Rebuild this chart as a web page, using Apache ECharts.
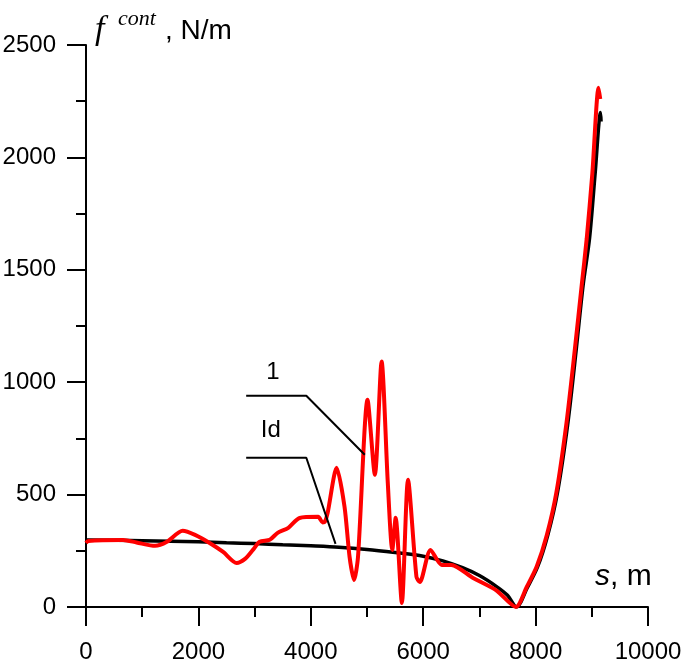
<!DOCTYPE html>
<html>
<head>
<meta charset="utf-8">
<script src="https://cdn.jsdelivr.net/npm/echarts@6/dist/echarts.min.js"></script>
<style>
  html, body { margin: 0; padding: 0; background: #fff; }
  #chart { width: 685px; height: 668px; }
</style>
</head>
<body>
<div id="chart"></div>
<script>
'use strict';
/* contact force along the pipe: ideal curve (Id) and computed curve (1) */

// x ticks and y ticks
var xTicks = [0, 2000, 4000, 6000, 8000, 10000];
var yTicks = [0, 500, 1000, 1500, 2000, 2500];

// curve Id (black)
var sId = [0, 1000, 2000, 2500, 3000, 3500, 4000, 4500, 5000, 5500, 6000, 6350, 6700, 7000, 7300, 7500, 7660,
  7850, 8035, 8215, 8390, 8575, 8725, 8845, 8960, 9060, 9156, 9165];
var vId = [298, 295, 290, 286, 282, 277, 272, 266, 256, 242, 226, 205, 175, 140, 92, 52, 0,
  85, 178, 318, 510, 820, 1150, 1430, 1640, 1930, 2200, 2160];

// curve 1 (red)
var s1 = [0, 40, 660, 900, 1230, 1440, 1720, 1940, 2200, 2440, 2680, 2830, 2970, 3090, 3270, 3410, 3600, 3800,
  4130, 4210, 4250, 4300, 4460, 4600, 4690, 4770, 4840, 5010, 5140, 5260, 5370, 5450, 5510, 5620, 5730,
  5880, 5940, 6130, 6330, 6500, 6880, 7300, 7650,
  7840, 8020, 8200, 8370, 8550, 8700, 8820, 8910, 9010, 9120, 9150];
var v1 = [285, 294, 298, 287, 272, 290, 339, 321, 285, 245, 196, 214, 254, 290, 299, 330, 352, 396,
  401, 376, 379, 419, 619, 446, 223, 120, 223, 922, 588, 1092, 552, 254, 397, 18, 566,
  134, 111, 254, 187, 187, 130, 74, 0,
  88, 180, 320, 510, 820, 1150, 1430, 1640, 1930, 2310, 2260];

// leader lines for the curve labels
var lead1 = [[2850, 940], [3920, 940], [4960, 677]];
var leadId = [[2850, 664], [3920, 664], [4440, 281]];
var label1 = [3324, 1043];
var labelId = [3289, 784];

function pairs(xs, ys) {
  var out = [];
  for (var i = 0; i < xs.length; i++) {
    out.push([xs[i], ys[i]]);
  }
  return out;
}

var chart = echarts.init(document.getElementById('chart'));

var axisFont = 'Arial, "Liberation Sans", sans-serif';

function axisCfg(ticks, margin) {
  return {
    type: 'value',
    min: ticks[0],
    max: ticks[ticks.length - 1],
    interval: ticks[1] - ticks[0],
    axisLine: { show: true, onZero: false, lineStyle: { color: '#000', width: 2 } },
    axisTick: { show: true, inside: false, length: 19, lineStyle: { color: '#000', width: 2 } },
    minorTick: { show: true, splitNumber: 2, length: 10, lineStyle: { color: '#000', width: 2 } },
    splitLine: { show: false },
    axisLabel: {
      color: '#000', fontSize: 24, fontFamily: axisFont, margin: margin,
      formatter: function(v) { return String(v); }
    }
  };
}

var opt = {
  animation: false,
  backgroundColor: '#fff',
  grid: { left: 86, right: 37, top: 45, bottom: 61, outerBoundsMode: 'none', containLabel: false },
  xAxis: axisCfg(xTicks, 33),
  yAxis: axisCfg(yTicks, 30),
  series: [{
    name: 'Id',
    type: 'line',
    data: pairs(sId, vId),
    smooth: 0.3,
    showSymbol: false,
    silent: true,
    lineStyle: { color: '#000', width: 3.5 },
    z: 2
  }, {
    name: '1',
    type: 'line',
    data: pairs(s1, v1),
    smooth: 0.25,
    showSymbol: false,
    silent: true,
    lineStyle: { color: '#ff0000', width: 4 },
    z: 3
  }, {
    name: 'lead1',
    type: 'line',
    data: lead1,
    showSymbol: false,
    silent: true,
    lineStyle: { color: '#000', width: 2 },
    z: 4
  }, {
    name: 'leadId',
    type: 'line',
    data: leadId,
    showSymbol: false,
    silent: true,
    lineStyle: { color: '#000', width: 2 },
    z: 4
  }]
};

chart.setOption(opt);

// texts placed after the grid is known
var p1 = chart.convertToPixel({ gridIndex: 0 }, label1);
var pId = chart.convertToPixel({ gridIndex: 0 }, labelId);

chart.setOption({
  graphic: [{
    type: 'text', x: p1[0], y: p1[1],
    style: { text: '1', font: '24px ' + axisFont, fill: '#000', align: 'center', verticalAlign: 'middle' }
  }, {
    type: 'text', x: pId[0], y: pId[1],
    style: { text: 'Id', font: '24px ' + axisFont, fill: '#000', align: 'center', verticalAlign: 'middle' }
  }, {
    type: 'text', x: 95, y: 30,
    style: { text: 'f', font: 'italic 34px "Liberation Serif", "Times New Roman", serif', fill: '#000', align: 'left', verticalAlign: 'middle' }
  }, {
    type: 'text', x: 118, y: 19,
    style: { text: 'cont', font: 'italic 22px "Liberation Serif", "Times New Roman", serif', fill: '#000', align: 'left', verticalAlign: 'middle' }
  }, {
    type: 'text', x: 165, y: 31,
    style: { text: ', N/m', font: '28px ' + axisFont, fill: '#000', align: 'left', verticalAlign: 'middle' }
  }, {
    type: 'text', x: 595, y: 577,
    style: {
      text: '{i|s}, m',
      font: '30px ' + axisFont,
      fill: '#000',
      align: 'left',
      verticalAlign: 'middle',
      rich: { i: { fontStyle: 'italic', fontSize: 30, fontFamily: axisFont, fill: '#000' } }
    }
  }]
});
</script>
</body>
</html>
